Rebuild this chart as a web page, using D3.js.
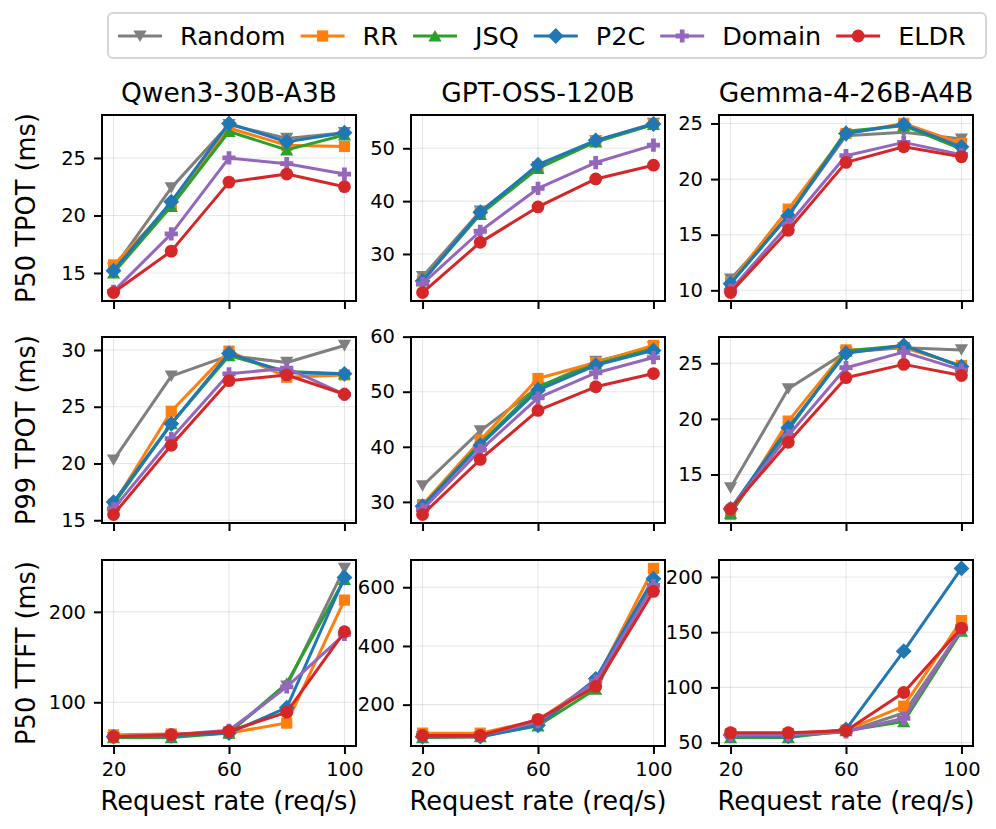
<!DOCTYPE html>
<html>
<head>
<meta charset="utf-8">
<script src="https://cdn.jsdelivr.net/npm/d3@7"></script>
<style>
  body { margin: 0; background: #fff; }
  text { font-family: "DejaVu Sans", sans-serif; fill: #000; }
</style>
</head>
<body>
<div id="vizcontainer"></div>
<script>
const
  width = 996,
  height = 829
  ;

const rates = [20, 40, 60, 80, 100];
const xTicks = [20, 60, 100];
const methods = ['Random', 'RR', 'JSQ', 'P2C', 'Domain', 'ELDR'];
const colors = ['#7f7f7f', '#ff7f0e', '#2ca02c', '#1f77b4', '#9467bd', '#d62728'];
const models = ['Qwen3-30B-A3B', 'GPT-OSS-120B', 'Gemma-4-26B-A4B'];
const metrics = ['P50 TPOT (ms)', 'P99 TPOT (ms)', 'P50 TTFT (ms)'];

// one row per method, in the order of `methods`
const qwenP50Tpot = [
  [15.4, 22.4, 27.9, 26.7, 27.2],
  [15.7, 20.9, 27.6, 26.1, 26.0],
  [15.0, 20.8, 27.3, 25.7, 27.0],
  [15.2, 21.2, 28.0, 26.4, 27.2],
  [13.4, 18.4, 25.0, 24.5, 23.6],
  [13.3, 16.9, 22.9, 23.6, 22.5]
];
const gptP50Tpot = [
  [25.7, 38.1, 46.5, 51.4, 54.7],
  [25.0, 37.8, 46.4, 51.4, 54.5],
  [24.9, 37.5, 46.2, 51.2, 54.5],
  [24.9, 37.9, 46.9, 51.5, 54.6],
  [24.4, 34.3, 42.4, 47.3, 50.6],
  [22.7, 32.2, 38.9, 44.2, 46.8]
];
const gemmaP50Tpot = [
  [11.0, 16.7, 23.9, 24.2, 23.6],
  [10.7, 17.3, 24.1, 25.0, 23.2],
  [10.6, 16.7, 24.3, 24.8, 22.7],
  [10.6, 16.7, 24.1, 24.9, 22.9],
  [10.0, 15.9, 22.1, 23.3, 22.2],
  [9.8, 15.4, 21.5, 22.9, 22.0]
];
const qwenP99Tpot = [
  [20.3, 27.7, 29.5, 28.9, 30.4],
  [16.4, 24.6, 29.9, 27.6, 27.8],
  [16.4, 23.5, 29.5, 28.1, 27.9],
  [16.6, 23.5, 29.7, 28.0, 27.9],
  [16.0, 22.2, 27.9, 28.4, 26.1],
  [15.5, 21.6, 27.3, 27.8, 26.1]
];
const gptP99Tpot = [
  [32.9, 42.9, 50.8, 55.5, 58.1],
  [29.5, 41.2, 52.4, 55.3, 58.4],
  [29.2, 40.6, 50.9, 55.0, 57.8],
  [29.2, 40.3, 50.3, 54.8, 57.5],
  [28.6, 39.4, 48.9, 53.4, 56.2],
  [27.7, 37.7, 46.6, 50.9, 53.3]
];
const gemmaP99Tpot = [
  [13.8, 22.7, 26.0, 26.4, 26.2],
  [11.4, 19.8, 26.2, 26.4, 24.8],
  [11.5, 19.0, 26.1, 26.6, 24.7],
  [11.9, 19.2, 25.9, 26.6, 24.7],
  [11.9, 18.5, 24.6, 26.0, 24.4],
  [11.9, 17.9, 23.7, 24.9, 23.9]
];
const qwenP50Ttft = [
  [61, 62, 67, 118, 248],
  [64, 65, 66, 77, 213],
  [61, 61, 66, 121, 236],
  [62, 63, 66, 94, 238],
  [62, 64, 69, 117, 175],
  [62, 64, 68, 89, 178]
];
const gptP50Ttft = [
  [91, 91, 136, 274, 612],
  [103, 103, 147, 280, 664],
  [88, 91, 128, 253, 623],
  [91, 91, 130, 288, 629],
  [95, 95, 142, 280, 606],
  [95, 95, 150, 262, 586]
];
const gemmaP50Ttft = [
  [56.8, 55.8, 59.8, 76.8, 152],
  [58.3, 58.3, 61.4, 83, 160.5],
  [54.6, 54.6, 60.8, 69, 151],
  [56.8, 55.8, 62, 132.8, 207.7],
  [56.8, 56.8, 59.8, 72, 153],
  [59, 59, 60.8, 95.4, 153.7]
];

const yTicks = [
  [[15, 20, 25], [30, 40, 50], [10, 15, 20, 25]],
  [[15, 20, 25, 30], [30, 40, 50, 60], [15, 20, 25]],
  [[100, 200], [200, 400, 600], [50, 100, 150, 200]]
];

const panels = [
  [qwenP50Tpot, gptP50Tpot, gemmaP50Tpot],
  [qwenP99Tpot, gptP99Tpot, gemmaP99Tpot],
  [qwenP50Ttft, gptP50Ttft, gemmaP50Ttft]
];

const colX = [102, 411, 719];
const rowY = [115, 337, 560];
const panelW = 254, panelH = 186;

// marker path builders, r is the half-size in px
const markerPath = {
  Random: r => `M${-r},${-r * 0.85}L${r},${-r * 0.85}L0,${r * 0.9}Z`,
  RR: r => `M${-r * 0.85},${-r * 0.85}H${r * 0.85}V${r * 0.85}H${-r * 0.85}Z`,
  JSQ: r => `M${-r},${r * 0.85}L${r},${r * 0.85}L0,${-r * 0.9}Z`,
  P2C: r => `M0,${-r * 1.2}L${r * 1.2},0L0,${r * 1.2}L${-r * 1.2},0Z`,
  Domain: r => {
    const a = r * 0.36, b = r;
    return `M${-a},${-b}H${a}V${-a}H${b}V${a}H${a}V${b}H${-a}V${a}H${-b}V${-a}H${-a}Z`;
  },
  ELDR: r => d3.arc()({ innerRadius: 0, outerRadius: r * 0.97, startAngle: 0, endAngle: 2 * Math.PI })
};

let viz = d3.select('#vizcontainer')
  .append('svg')
  .attr('width', width)
  .attr('height', height);

let xScale = d3.scaleLinear()
  .domain([16, 104])
  .range([0, panelW]);

panels.forEach((row, ri) => {
  row.forEach((series, ci) => {
    let all = series.flat();
    let lo = d3.min(all), hi = d3.max(all), pad = (hi - lo) * 0.05;
    let yScale = d3.scaleLinear()
      .domain([lo - pad, hi + pad])
      .range([panelH, 0]);

    let g = viz.append('g')
      .attr('transform', `translate(${colX[ci]},${rowY[ri]})`);

    // grid
    g.selectAll('.vgrid')
      .data(xTicks)
      .join('line')
      .attr('x1', d => xScale(d)).attr('x2', d => xScale(d))
      .attr('y1', 0).attr('y2', panelH)
      .attr('stroke', '#b0b0b0').attr('stroke-opacity', 0.3).attr('stroke-width', 1.1);
    g.selectAll('.hgrid')
      .data(yTicks[ri][ci])
      .join('line')
      .attr('x1', 0).attr('x2', panelW)
      .attr('y1', d => yScale(d)).attr('y2', d => yScale(d))
      .attr('stroke', '#b0b0b0').attr('stroke-opacity', 0.3).attr('stroke-width', 1.1);

    // axes
    let yAxis = d3.axisLeft(yScale)
      .tickValues(yTicks[ri][ci])
      .tickSize(8)
      .tickPadding(8);
    let ya = g.append('g').call(yAxis);
    ya.select('.domain').remove();
    ya.selectAll('line').attr('stroke-width', 2);
    ya.selectAll('text')
      .style('font-size', '19.5px')
      .style('font-family', '"DejaVu Sans", sans-serif');

    let xAxis = d3.axisBottom(xScale)
      .tickValues(xTicks)
      .tickSize(8)
      .tickPadding(8)
      .tickFormat(ri == 2 ? d3.format('d') : '');
    let xa = g.append('g')
      .attr('transform', `translate(0,${panelH})`)
      .call(xAxis);
    xa.select('.domain').remove();
    xa.selectAll('line').attr('stroke-width', 2);
    xa.selectAll('text')
      .style('font-size', '19.5px')
      .style('font-family', '"DejaVu Sans", sans-serif');

    // series
    let line = d3.line()
      .x((d, i) => xScale(rates[i]))
      .y(d => yScale(d));
    series.forEach((vals, mi) => {
      let sg = g.append('g');
      sg.append('path')
        .attr('d', line(vals))
        .attr('fill', 'none')
        .attr('stroke', colors[mi])
        .attr('stroke-width', 3)
        .attr('stroke-linejoin', 'round');
      sg.selectAll('path.mk')
        .data(vals)
        .join('path')
        .attr('class', 'mk')
        .attr('transform', (d, i) => `translate(${xScale(rates[i])},${yScale(d)})`)
        .attr('d', markerPath[methods[mi]](6.6))
        .attr('fill', colors[mi]);
    });

    // frame
    g.append('rect')
      .attr('width', panelW).attr('height', panelH)
      .attr('fill', 'none')
      .attr('stroke', '#000')
      .attr('stroke-width', 2);

    if (ri == 0) {
      g.append('text')
        .attr('x', panelW / 2).attr('y', -13)
        .attr('text-anchor', 'middle')
        .style('font-size', '26.5px')
        .text(models[ci]);
    }
    if (ri == 2) {
      g.append('text')
        .attr('x', panelW / 2).attr('y', panelH + 64)
        .attr('text-anchor', 'middle')
        .style('font-size', '25.7px')
        .text('Request rate (req/s)');
    }
    if (ci == 0) {
      g.append('text')
        .attr('transform', `translate(${35 - colX[0]},${panelH / 2}) rotate(-90)`)
        .attr('text-anchor', 'middle')
        .style('font-size', '25.7px')
        .text(metrics[ri]);
    }
  });
});

// legend
let legend = viz.append('g');
legend.append('rect')
  .attr('x', 108).attr('y', 13)
  .attr('width', 878).attr('height', 45)
  .attr('rx', 5)
  .attr('fill', '#fff')
  .attr('stroke', '#d6d6d6')
  .attr('stroke-width', 2);

let lx = 118;
const ly = 36;
methods.forEach((m, mi) => {
  let item = legend.append('g');
  item.append('line')
    .attr('x1', lx).attr('x2', lx + 44)
    .attr('y1', ly).attr('y2', ly)
    .attr('stroke', colors[mi])
    .attr('stroke-width', 3);
  item.append('path')
    .attr('transform', `translate(${lx + 22},${ly})`)
    .attr('d', markerPath[m](6.6))
    .attr('fill', colors[mi]);
  let t = item.append('text')
    .attr('x', lx + 62).attr('y', ly + 9)
    .style('font-size', '25.5px')
    .text(m);
  lx += 62 + t.node().getComputedTextLength() + 15;
});
</script>
</body>
</html>
